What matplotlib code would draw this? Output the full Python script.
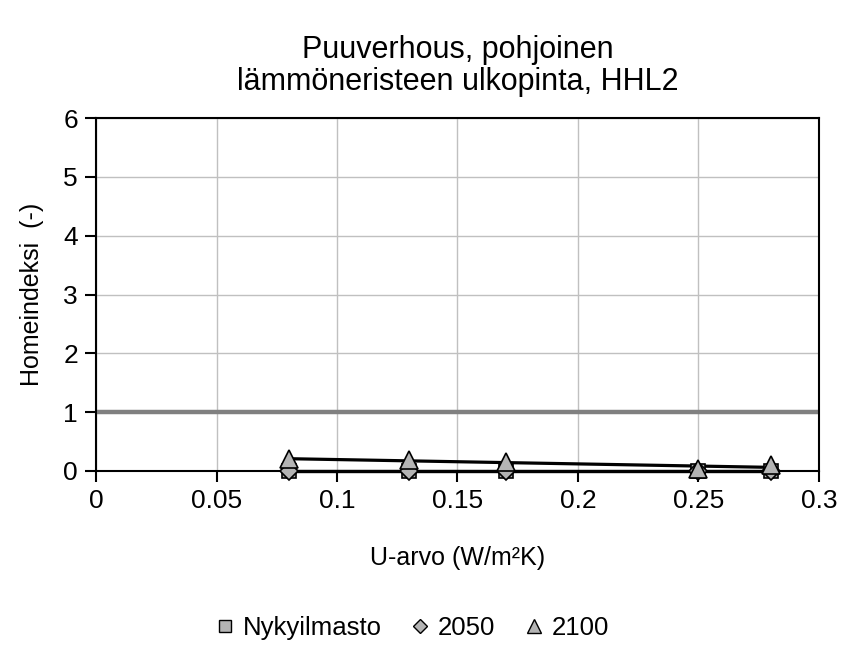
import numpy as np
import matplotlib
matplotlib.use("Agg")
import matplotlib.pyplot as plt

plt.rcParams['font.family'] = ['Liberation Sans', 'DejaVu Sans']

u_values = [0.08, 0.13, 0.17, 0.25, 0.28]
nykyilmasto = [0.0, 0.0, 0.0, 0.0, 0.0]
v2050 = [0.0, 0.0, 0.0, 0.0, 0.0]
v2100 = [0.20, 0.19, 0.15, 0.03, 0.10]
series_names = ["Nykyilmasto", "2050", "2100"]
limit_value = 1.0
x_ticks = [0, 0.05, 0.1, 0.15, 0.2, 0.25, 0.3]
x_tick_labels = ["0", "0.05", "0.1", "0.15", "0.2", "0.25", "0.3"]
y_ticks = [0, 1, 2, 3, 4, 5, 6]

fig = plt.figure(figsize=(8.43, 6.46), dpi=100)
ax = fig.add_axes([0.1139, 0.2709, 0.9715 - 0.1139, 0.8173 - 0.2709])

ax.set_xlim(0, 0.3)
ax.set_ylim(0, 6)
ax.set_xticks(x_ticks)
ax.set_xticklabels(x_tick_labels)
ax.set_yticks(y_ticks)
ax.grid(True, color='#c0c0c0', linewidth=1.0)
ax.set_axisbelow(True)
for s in ax.spines.values():
    s.set_linewidth(1.5)
    s.set_color('black')
ax.tick_params(axis='both', labelsize=19, length=8, width=1.5, direction='out', pad=5)

# limit line
ax.axhline(limit_value, color='#808080', linewidth=3.2, zorder=2)

x = np.array(u_values)
face = '#b4b4b4'
markers = ['s', 'D', '^']
sizes = [10, 9, 13]
legend_sizes = [8.5, 7.5, 10.5]
data = [nykyilmasto, v2050, v2100]
handles = []
for name, vals, m, ms, ls in zip(series_names, data, markers, sizes, legend_sizes):
    y = np.array(vals)
    # linear trend over the series
    k, b = np.polyfit(x, y, 1)
    xx = np.array([x.min(), x.max()])
    ax.plot(xx, k * xx + b, color='black', linewidth=2.3, zorder=3, clip_on=False)
    ax.plot(x, y, linestyle='none', marker=m, markersize=ms, markerfacecolor=face,
            markeredgecolor='black', markeredgewidth=1.2, zorder=4, clip_on=False)
    h, = ax.plot([], [], linestyle='none', marker=m, markersize=ls,
                 markerfacecolor=face, markeredgecolor='black', markeredgewidth=1.0)
    handles.append(h)

ax.set_xlabel("U-arvo (W/m²K)", fontsize=18, labelpad=24)
ax.set_ylabel("Homeindeksi  (-)", fontsize=18, labelpad=14)
ax.set_title("Puuverhous, pohjoinen\nlämmöneristeen ulkopinta, HHL2", fontsize=22, pad=20,
             linespacing=1.1)

fig.legend(handles, series_names, loc='center', bbox_to_anchor=(0.487, 0.028), ncol=3,
           frameon=False, fontsize=18.5, handletextpad=0.2, columnspacing=1.0,
           handlelength=1.0)

fig.savefig("out.png", dpi=100)
